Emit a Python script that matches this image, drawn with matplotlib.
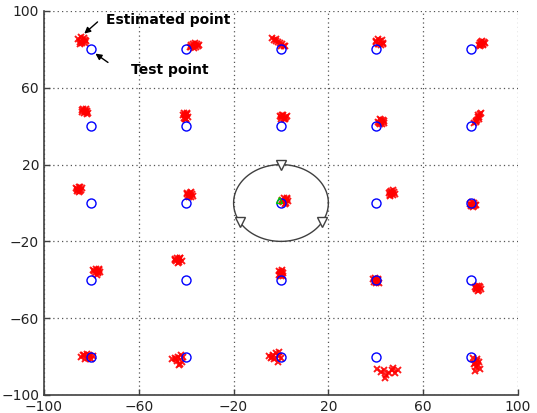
import numpy as np
import matplotlib.pyplot as plt

# test grid positions
test_x = [-80, -40, 0, 40, 80]
test_y = [80, 40, 0, -40, -80]

# estimated positions, one list per test point (row by row, top to bottom)
est_x = [
    [-85.5, -84.2, -82.6, -83.9, -85.0, -82.1, -83.3, -84.8, -82.9, -84.0],
    [-38.6, -37.2, -35.4, -36.0, -34.6, -37.8, -36.9, -35.1, -38.0, -36.3],
    [-3.6, -2.8, -2.0, -1.3, -0.5, 0.3, 1.1, 1.9, -1.9, 0.0],
    [40.1, 41.0, 42.6, 43.0, 41.6, 39.9, 42.1, 40.8, 43.2, 41.4],
    [83.6, 84.3, 85.6, 85.1, 84.0, 86.0, 84.8, 83.8, 85.4, 84.6],
    [-83.8, -82.4, -81.5, -83.2, -82.0, -84.0, -81.7, -82.9, -83.5, -82.2],
    [-41.0, -39.8, -40.6, -39.4, -40.9, -40.0, -39.6, -40.4, -41.2, -39.9],
    [-0.4, 0.8, 2.1, 1.5, 0.2, 2.4, 1.1, -0.1, 1.8, 0.6],
    [41.0, 42.3, 43.4, 42.8, 41.6, 43.0, 41.3, 42.2, 43.6, 41.9],
    [81.6, 82.1, 82.7, 83.0, 83.6, 84.1, 84.6, 82.4, 83.5, 83.0],
    [-86.3, -85.4, -84.1, -84.7, -85.9, -84.3, -85.1, -86.0, -84.6, -85.6],
    [-39.8, -38.4, -37.6, -39.2, -38.0, -37.2, -39.5, -38.7, -37.9, -38.9],
    [0.6, 1.4, 2.5, 2.0, 3.1, 1.0, 2.7, 1.8, 0.3, 2.2],
    [45.6, 46.4, 47.7, 47.2, 45.9, 46.8, 47.9, 46.1, 47.4, 45.8],
    [79.9, 80.6, 81.9, 81.4, 80.2, 82.2, 81.0, 80.4, 81.6, 80.8],
    [-79.2, -78.1, -76.6, -77.0, -78.5, -76.2, -77.7, -78.8, -76.8, -77.4],
    [-44.9, -43.8, -42.4, -42.9, -44.2, -41.9, -43.4, -44.6, -42.6, -43.1],
    [-0.8, 0.4, -0.2, 0.9, -0.9, 0.2, 0.7, -0.5, 0.3, -0.1],
    [38.9, 39.7, 41.0, 40.6, 39.3, 40.2, 41.2, 39.5, 40.8, 40.0],
    [81.8, 82.6, 83.9, 83.4, 82.1, 84.2, 83.0, 82.4, 83.6, 82.9],
    [-84.3, -83.1, -82.0, -80.6, -79.4, -81.4, -82.7, -80.2, -83.6, -81.0],
    [-46.0, -44.8, -43.5, -42.2, -41.2, -43.9, -42.6, -44.3, -41.6, -42.9],
    [-5.0, -4.1, -3.2, -2.0, -0.8, 0.2, -2.8, -1.4, -3.6, -1.0],
    [40.6, 42.1, 43.3, 44.2, 45.5, 46.8, 48.1, 49.4, 43.8, 47.2],
    [81.2, 82.6, 83.4, 82.0, 81.5, 83.0, 82.4, 83.8, 81.8, 82.9],
]
est_y = [
    [85.6, 86.2, 85.1, 83.4, 84.0, 84.3, 85.9, 82.9, 83.2, 84.8],
    [81.4, 82.6, 82.9, 81.0, 82.3, 82.2, 80.9, 81.6, 81.1, 83.3],
    [86.1, 84.9, 85.5, 83.8, 83.1, 82.9, 82.0, 81.6, 84.4, 81.8],
    [84.6, 82.7, 85.0, 83.4, 84.2, 83.6, 82.3, 85.4, 82.9, 83.0],
    [82.5, 83.9, 84.0, 82.2, 81.9, 83.1, 84.4, 83.3, 82.8, 82.1],
    [48.5, 48.9, 47.1, 46.8, 46.3, 47.6, 48.1, 47.9, 49.0, 47.3],
    [47.1, 46.5, 45.6, 45.0, 44.4, 43.7, 46.9, 44.0, 45.9, 43.5],
    [45.5, 45.9, 44.9, 43.8, 44.0, 45.3, 43.5, 44.8, 44.4, 46.0],
    [42.3, 43.1, 42.6, 41.2, 40.9, 43.4, 41.6, 42.0, 41.5, 43.6],
    [41.4, 42.5, 43.1, 44.6, 45.0, 46.2, 47.0, 42.0, 44.0, 45.8],
    [7.9, 8.3, 7.6, 6.4, 6.1, 7.0, 5.9, 7.2, 8.1, 6.6],
    [4.6, 5.4, 4.9, 3.6, 3.2, 3.9, 5.0, 4.3, 5.8, 2.9],
    [1.6, 2.5, 1.9, 0.2, 1.1, 0.6, 2.8, -0.4, 1.2, 1.5],
    [5.3, 6.4, 5.9, 4.1, 4.0, 5.1, 4.8, 3.6, 6.7, 5.8],
    [-0.3, 0.4, -0.8, -1.8, -1.5, -1.2, -2.0, -0.9, 0.1, -1.1],
    [-34.9, -34.2, -35.0, -36.7, -36.4, -36.0, -37.3, -35.6, -34.6, -35.9],
    [-29.3, -28.6, -28.9, -30.5, -30.1, -30.0, -31.0, -29.7, -28.4, -29.9],
    [-35.4, -35.1, -36.2, -36.6, -37.3, -37.8, -38.2, -36.9, -35.8, -37.5],
    [-39.7, -39.3, -40.1, -41.3, -41.0, -40.6, -41.6, -40.3, -39.8, -41.8],
    [-43.6, -43.2, -43.8, -45.3, -44.9, -44.6, -45.6, -44.1, -43.4, -45.0],
    [-80.1, -79.0, -78.7, -79.5, -79.9, -80.9, -81.3, -81.0, -79.4, -79.3],
    [-81.5, -80.5, -80.0, -79.2, -80.4, -82.3, -83.9, -81.0, -82.6, -84.6],
    [-79.6, -80.8, -79.0, -78.2, -79.8, -80.5, -81.3, -82.6, -80.1, -77.6],
    [-86.4, -88.0, -87.2, -89.8, -88.5, -87.0, -88.3, -86.8, -91.0, -86.1],
    [-80.8, -81.5, -82.7, -83.2, -84.1, -84.6, -85.4, -86.3, -87.5, -82.1],
]

# anchor nodes on the ring around the origin
anchor_radius = 20
anchor_angles = [90, 210, 330]
ticks = [-100, -60, -20, 20, 60, 100]

fig = plt.figure(figsize=(5.37, 4.13), dpi=100)
ax = fig.add_axes([0.0819, 0.0436, 0.8827, 0.9298])

for xs, ys in zip(est_x, est_y):
    ax.plot(xs, ys, 'x', color='red', markersize=4.5, mew=1.4, alpha=0.9)

tx, ty = np.meshgrid(test_x, test_y)
ax.plot(tx.ravel(), ty.ravel(), 'o', mfc='none', mec='blue', markersize=6.5, mew=1)

# reference mark at the origin
ax.plot([-1], [1.5], '^', mfc='none', mec='#00cc00', markersize=5, mew=1)

th = np.linspace(0, 2 * np.pi, 200)
ax.plot(anchor_radius * np.cos(th), anchor_radius * np.sin(th), color='#404040', lw=1)
a = np.radians(anchor_angles)
ax.plot(anchor_radius * np.cos(a), anchor_radius * np.sin(a), 'v', mfc='white',
        mec='#404040', markersize=7, mew=1, zorder=5)

ax.text(-73.8, 95.2, 'Estimated point', fontsize=10, fontweight='bold', va='center', ha='left')
ax.text(-63.3, 69.3, 'Test point', fontsize=10, fontweight='bold', va='center', ha='left')
arrow = dict(arrowstyle='-|>', color='black', lw=1, mutation_scale=9, shrinkA=0, shrinkB=0)
ax.annotate('', xy=(-83.0, 88.2), xytext=(-77.4, 94.3), arrowprops=arrow)
ax.annotate('', xy=(-78.3, 77.8), xytext=(-73.0, 73.2), arrowprops=arrow)

ax.set_xlim(-100, 100)
ax.set_ylim(-100, 100)
ax.set_xticks(ticks)
ax.set_yticks(ticks)
ax.grid(True, color='#555555', linestyle=(0, (1, 2.5)), lw=0.9)
ax.tick_params(direction='in', length=4, width=1, colors='#404040', labelsize=10,
               labelcolor='#222222')
for s in ['top', 'right']:
    ax.spines[s].set_visible(False)
for s in ['left', 'bottom']:
    ax.spines[s].set_color('#404040')
    ax.spines[s].set_linewidth(1.2)

fig.savefig('out.png', dpi=100)
